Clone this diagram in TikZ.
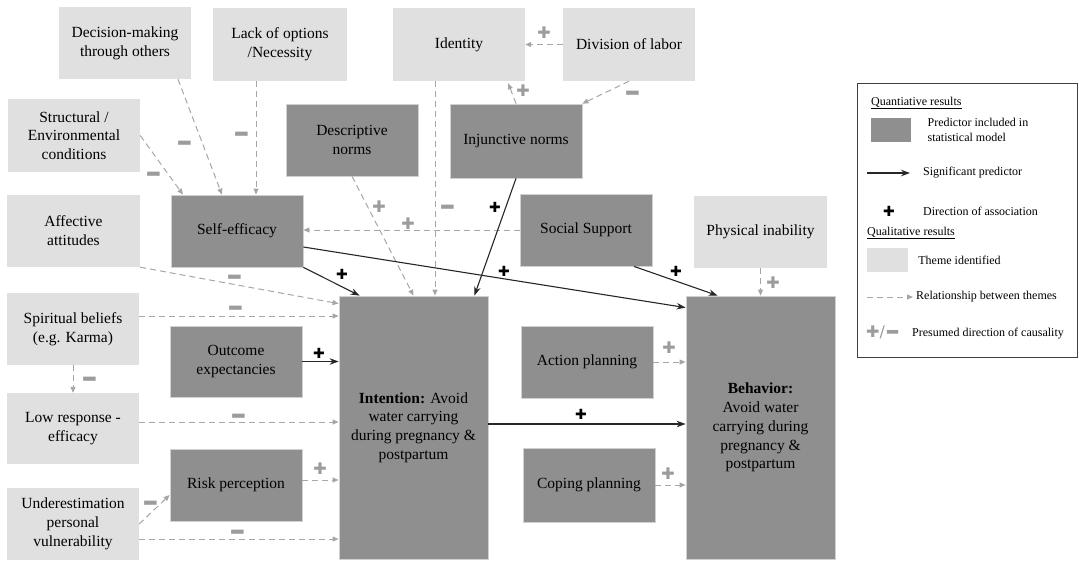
\documentclass[tikz,border=0pt]{standalone}
\usepackage{fontspec,graphicx}
\setmainfont{Liberation Serif}
\newfontfamily\signfont{DejaVu Sans}
\usetikzlibrary{arrows.meta,positioning,calc}
\definecolor{thmgray}{HTML}{E0E0E0}
\definecolor{prdgray}{HTML}{8F8F8F}
\definecolor{lnkgray}{HTML}{A6A6A6}
\definecolor{sgngray}{HTML}{9C9C9C}
\newcommand{\mnsign}{\raisebox{-0.59em}[0.15em][0.15em]{\scalebox{1}[1.8]{−}}}
\tikzset{
  blk/.style={rectangle,minimum width=132pt,minimum height=72pt,inner sep=2pt,align=center,font=\fontsize{15.5}{18.8}\selectfont},
  thmblk/.style={blk,fill=thmgray},
  prdblk/.style={blk,fill=prdgray,draw=black!18,line width=0.8pt},
  bigblk/.style={prdblk,minimum width=149pt,minimum height=263pt},
  arr/.style={-{Stealth[length=9pt,width=6.5pt]},line width=1.1pt,black!85},
  darr/.style={-{Triangle[length=6pt,width=5pt]},lnkgray,line width=1pt,dash pattern=on 6pt off 4pt},
  plusg/.style={inner sep=0pt,text=sgngray,font=\signfont\fontsize{16}{16}\selectfont},
  minusg/.style={inner sep=0pt,text=sgngray,font=\signfont\bfseries\fontsize{20}{20}\selectfont},
  plusb/.style={plusg,text=black,font=\signfont\fontsize{14}{14}\selectfont},
  lgtxt/.style={inner sep=0pt,align=left,font=\fontsize{12}{15}\selectfont}
}

\begin{document}
\begin{tikzpicture}[x=1pt,y=-1pt]
  \useasboundingbox (0,0) rectangle (1079,563);

  \node[thmblk] (decis) at (125,43) {Decision-making\\through others};
  \node[thmblk,minimum width=134pt,minimum height=73pt] (lackopt) at (280,44.5) {Lack of options\\/Necessity};
  \node[thmblk,minimum height=73pt] (ident) at (459,44.5) {Identity};
  \node[thmblk,minimum height=73pt] (divlab) at (629,44.5) {Division of labor};
  \node[thmblk,minimum height=73pt] (struct) at (74,135.5) {Structural /\\Environmental\\conditions};
  \node[prdblk] (descn) at (352,140) {Descriptive\\norms};
  \node[prdblk,minimum height=74pt] (injn) at (516,141) {Injunctive norms};
  \node[thmblk,minimum width=133pt] (affect) at (73.5,231) {Affective\\attitudes};
  \node[prdblk] (selfeff) at (237,231) {Self-efficacy};
  \node[prdblk] (socsup) at (586,230) {Social Support};
  \node[thmblk,minimum width=133pt] (physin) at (760.5,232) {Physical inability};
  \node[thmblk] (spirit) at (73,329) {Spiritual beliefs\\(e.g. Karma)};
  \node[prdblk,minimum height=71pt] (outexp) at (236,361.5) {Outcome\\expectancies};
  \node[bigblk] (intent) at (413.5,427.5) {\textbf{Intention:} Avoid\\water carrying\\during pregnancy \&\\postpartum};
  \node[bigblk] (behav) at (760.5,427.5) {\textbf{Behavior:}\\Avoid water\\carrying during\\pregnancy \&\\postpartum};
  \node[prdblk] (actplan) at (587,362) {Action planning};
  \node[thmblk,minimum height=71pt] (lowresp) at (73,428.5) {Low response -\\efficacy};
  \node[prdblk] (riskp) at (236,485) {Risk perception};
  \node[prdblk,minimum height=74pt] (copplan) at (589,485) {Coping planning};
  \node[thmblk] (underest) at (73,524) {Underestimation\\personal\\vulnerability};

  \draw[darr] ([xshift=53pt]decis.south) -- ([xshift=-15pt]selfeff.north);
  \draw[darr] ([xshift=-24pt]lackopt.south) -- ([xshift=-24pt]lackopt.south |- selfeff.north);
  \draw[darr] (struct.east) -- ([xshift=-54pt]selfeff.north);
  \draw[darr] ([xshift=-24pt]ident.south) -- ([xshift=-24pt]ident.south |- intent.north);
  \draw[darr] (divlab.west) -- (ident.east);
  \draw[darr] (divlab.south) -- (injn.north east);
  \draw[darr] (injn.north) -- ([xshift=-17pt,yshift=-2pt]ident.south east);
  \draw[darr] (descn.south) -- (intent.north);
  \draw[darr] (socsup.west) -- (socsup.west -| selfeff.east);
  \draw[darr] (affect.south east) -- ([yshift=-8pt]intent.north west);
  \draw[darr] ([yshift=13pt]spirit.east) -- ([yshift=13pt]spirit.east -| intent.west);
  \draw[darr] (spirit.south) -- (lowresp.north);
  \draw[darr] ([yshift=6.5pt]lowresp.east) -- ([yshift=6.5pt]lowresp.east -| intent.west);
  \draw[darr] ([yshift=5pt]riskp.east) -- ([yshift=5pt]riskp.east -| intent.west);
  \draw[darr] (underest.east) -- ([yshift=-10pt]riskp.west);
  \draw[darr] ([yshift=-15pt]underest.east) -- ([yshift=-15pt]underest.east -| intent.west);
  \draw[darr] (physin.south) -- (behav.north);
  \draw[darr] (actplan.east) -- (actplan.east -| behav.west);
  \draw[darr] (copplan.east) -- (copplan.east -| behav.west);

  \draw[arr] (selfeff.south east) -- ([xshift=21pt]intent.north west);
  \draw[arr] ([yshift=-16pt]selfeff.east) -- ([yshift=-12pt]behav.north west);
  \draw[arr] (injn.south) -- ([xshift=-14pt]intent.north east);
  \draw[arr] ([xshift=48pt]socsup.south) -- ([xshift=32pt]behav.north west);
  \draw[arr] (outexp.east) -- (outexp.east -| intent.west);
  \draw[arr] ([yshift=3.5pt]intent.east) -- ([yshift=3.5pt]intent.east -| behav.west);

  \foreach \x/\y [count=\i] in {185/143,242/134,154/174,448/207,633/93,235/277,236/308,90/379,239/416,151/503,238/532}
    \node[minusg] (mn\i) at (\x,\y) {\mnsign};
  \foreach \x/\y [count=\i] in {544/33,523/91,379/207,408/224,320/469,773/283,669/348,668/474}
    \node[plusg] (pg\i) at (\x,\y) {✚};
  \foreach \x/\y [count=\i] in {342/274,504/271,495/207,676/271,319/353,581/414}
    \node[plusb] (pb\i) at (\x,\y) {✚};

  \node[draw=black!75,line width=0.9pt,minimum width=220pt,minimum height=274pt] (legend) at (967,220) {};
  \node[lgtxt,anchor=west] (lgquant) at (871,103) {\underline{Quantiative results}};
  \node[prdblk,draw=none,minimum width=40pt,minimum height=24pt] (lgpred) at (891,130) {};
  \node[lgtxt,right=16pt of lgpred] (lgpredt) {Predictor included in\\statistical model};
  \coordinate (lgarra) at (867,173);
  \coordinate (lgarrb) at (910,173);
  \draw[arr] (lgarra) -- (lgarrb);
  \node[lgtxt,anchor=west] (lgsigt) at (923,173) {Significant predictor};
  \node[plusb] (lgplus) at (889,211) {✚};
  \node[lgtxt,anchor=west] (lgdirt) at (923,211) {Direction of association};
  \node[lgtxt,anchor=west] (lgqual) at (867,233) {\underline{Qualitative results}};
  \node[thmblk,minimum width=41pt,minimum height=24pt] (lgthm) at (887.5,260) {};
  \node[lgtxt,right=10pt of lgthm] (lgthmt) {Theme identified};
  \coordinate (lgdasha) at (867,297);
  \coordinate (lgdashb) at (913,297);
  \draw[darr] (lgdasha) -- (lgdashb);
  \node[lgtxt,anchor=west] (lgrelt) at (916,297) {Relationship between themes};
  \node[plusg,anchor=west] (lgsign) at (866,334) {✚/{\bfseries\fontsize{18}{18}\selectfont\raisebox{-0.28em}{\scalebox{1}[1.8]{−}}}};
  \node[lgtxt,anchor=west] (lgcaust) at (912,334) {Presumed direction of causality};
\end{tikzpicture}
\end{document}
